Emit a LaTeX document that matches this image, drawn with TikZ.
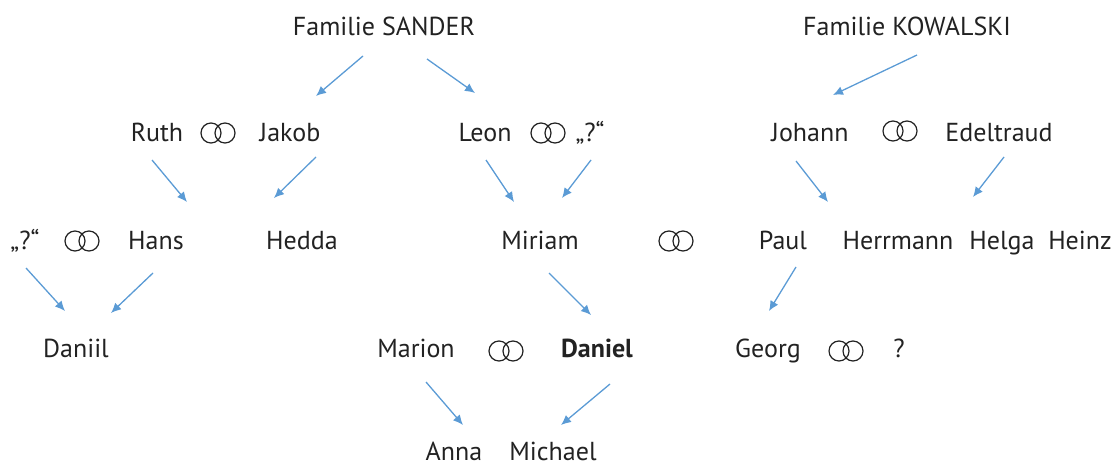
\documentclass[tikz,border=0pt]{standalone}
\usepackage{fontspec}
\setmainfont{PT Sans}
\usetikzlibrary{arrows.meta}
\definecolor{txt}{HTML}{222222}
\definecolor{arrc}{HTML}{5B9BD5}
\tikzset{
  person/.style={text=txt, font=\fontsize{26}{30}\selectfont, inner sep=0pt,
    text height=0.7em, text depth=0pt, anchor=center, yshift=-5pt},
  arr/.style={draw=arrc, line width=1.3pt, -{Latex[length=10pt,width=9pt]}},
  rings/.pic={\draw[txt, line width=1.2pt] (-7,0) circle (10pt) (7,0) circle (10pt);}
}
\begin{document}
\begin{tikzpicture}[x=1pt,y=-1pt]
\useasboundingbox (0,0) rectangle (1118,468);
% row 1
\node[person] (sander) at (384,27) {Familie SANDER};
\node[person] (kowalski) at (907,27) {Familie KOWALSKI};
% row 2
\node[person] (ruth) at (157,133) {Ruth};
\pic (r1) at (218,133) {rings};
\node[person] (jakob) at (290,133) {Jakob};
\node[person] (leon) at (485,133) {Leon};
\pic (r2) at (548,133) {rings};
\node[person] (q1) at (590,133) {„?“};
\node[person] (johann) at (810,133) {Johann};
\pic (r3) at (900,131) {rings};
\node[person] (edeltraud) at (999,133) {Edeltraud};
% row 3
\node[person] (q2) at (25,241) {„?“};
\pic (r4) at (82,241) {rings};
\node[person] (hans) at (156,241) {Hans};
\node[person] (hedda) at (302,241) {Hedda};
\node[person] (miriam) at (540,241) {Miriam};
\pic (r5) at (676,241) {rings};
\node[person] (paul) at (783,241) {Paul};
\node[person] (herrmann) at (898,241) {Herrmann};
\node[person] (helga) at (1002,241) {Helga};
\node[person] (heinz) at (1080,241) {Heinz};
% row 4
\node[person] (daniil) at (76,349) {Daniil};
\node[person] (marion) at (416,349) {Marion};
\pic (r6) at (506,351) {rings};
\node[person,font=\fontsize{26}{30}\selectfont\bfseries] (daniel) at (597,349) {Daniel};
\node[person] (georg) at (768,349) {Georg};
\pic (r7) at (846,351) {rings};
\node[person] (q3) at (899,349) {?};
% row 5
\node[person] (anna) at (454,452) {Anna};
\node[person] (michael) at (553,452) {Michael};
% arrow end points
\coordinate (s1a) at (363,56); \coordinate (s1b) at (316,96);
\coordinate (s2a) at (427,59); \coordinate (s2b) at (475,93);
\coordinate (k1a) at (917,55); \coordinate (k1b) at (833,95);
\coordinate (ruth-a) at (152,160); \coordinate (ruth-b) at (187,202);
\coordinate (jakob-a) at (316,157); \coordinate (jakob-b) at (274,198);
\coordinate (leon-a) at (486,160); \coordinate (leon-b) at (514,202);
\coordinate (q1-a) at (591,160); \coordinate (q1-b) at (562,198);
\coordinate (johann-a) at (796,161); \coordinate (johann-b) at (828,202);
\coordinate (edel-a) at (1004,157); \coordinate (edel-b) at (973,197);
\coordinate (q2-a) at (26,268); \coordinate (q2-b) at (65,311);
\coordinate (hans-a) at (153,273); \coordinate (hans-b) at (111,313);
\coordinate (miriam-a) at (549,273); \coordinate (miriam-b) at (591,315);
\coordinate (paul-a) at (796,267); \coordinate (paul-b) at (769,311);
\coordinate (marion-a) at (426,382); \coordinate (marion-b) at (463,425);
\coordinate (daniel-a) at (610,384); \coordinate (daniel-b) at (561,425);
% arrows
\draw[arr] (s1a) -- (s1b);
\draw[arr] (s2a) -- (s2b);
\draw[arr] (k1a) -- (k1b);
\draw[arr] (ruth-a) -- (ruth-b);
\draw[arr] (jakob-a) -- (jakob-b);
\draw[arr] (leon-a) -- (leon-b);
\draw[arr] (q1-a) -- (q1-b);
\draw[arr] (johann-a) -- (johann-b);
\draw[arr] (edel-a) -- (edel-b);
\draw[arr] (q2-a) -- (q2-b);
\draw[arr] (hans-a) -- (hans-b);
\draw[arr] (miriam-a) -- (miriam-b);
\draw[arr] (paul-a) -- (paul-b);
\draw[arr] (marion-a) -- (marion-b);
\draw[arr] (daniel-a) -- (daniel-b);
\end{tikzpicture}
\end{document}
